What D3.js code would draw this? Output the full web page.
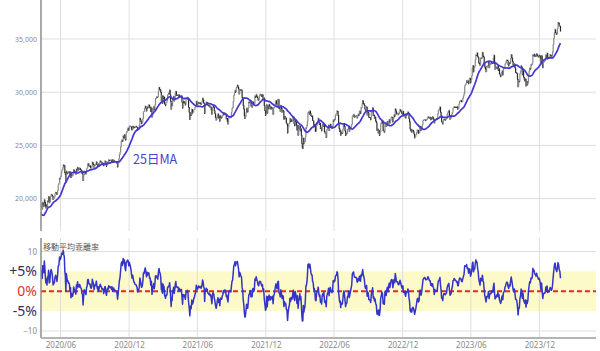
<!DOCTYPE html>
<html><head><meta charset="utf-8">
<script src="https://cdn.jsdelivr.net/npm/d3@7/dist/d3.min.js"></script>
<style>body{margin:0;background:#fff}svg{display:block}</style>
</head><body><svg id="c" width="600" height="351"></svg>
<script>
// ---- data (Nikkei 225 daily closes, grouped by month) ----
const months = ["2020/03","2020/04","2020/05","2020/06","2020/07","2020/08","2020/09","2020/10","2020/11","2020/12",
"2021/01","2021/02","2021/03","2021/04","2021/05","2021/06","2021/07","2021/08","2021/09","2021/10","2021/11","2021/12",
"2022/01","2022/02","2022/03","2022/04","2022/05","2022/06","2022/07","2022/08","2022/09","2022/10","2022/11","2022/12",
"2023/01","2023/02","2023/03","2023/04","2023/05","2023/06","2023/07","2023/08","2023/09","2023/10","2023/11","2023/12",
"2024/01"];
const closes = [
[21344,21083,21100,21329,20749,19698,19867,19416,18559,17431,17002,17011,16726,16552,16887,18092,19546,18664,19389,19084,18917],
[18065,17818,17820,18576,18950,19353,19345,19498,19043,19638,19550,19290,19897,19669,19280,19137,19429,19262,19783,19771,20194],
[19619,19674,20179,20390,20366,20267,19914,20037,20133,20433,20595,20552,20388,20741,21271,21419,21916,21878],
[22062,22325,22613,22695,22863,23178,23091,23124,22472,22305,21530,22582,22455,22355,22478,22437,22549,22534,22259,22512,21995,22288],
[22122,22146,22306,22714,22614,22438,22529,22290,22784,22587,22945,22770,22696,22717,22884,22751,22715,22657,22397,22339,21710],
[22195,22573,22514,22418,22329,22750,22843,23249,23289,23097,23051,23110,22920,22880,22985,23431,23296,23208,22882,23140],
[23138,23247,23465,23205,23089,23274,23032,23235,23406,23559,23454,23475,23319,23360,23346,23087,23205,23511,23539,23185],
[23029,23312,23433,23422,23647,23619,23558,23601,23626,23507,23671,23411,23567,23639,23474,23516,23494,23485,23418,23331,22977],
[23295,23695,24105,24325,24839,25349,25520,25385,25906,25727,26014,25634,25527,26165,26297,26537,26644,26434],
[26787,26800,26809,26751,26547,26467,26817,26756,26652,26732,26687,26757,26806,26763,26714,26436,26524,26668,26854,27568,27444],
[27258,27055,27158,27490,28139,28164,28457,28698,28519,28242,28633,28523,28756,28822,28546,28635,28197,28550,27663],
[28091,28362,28646,28341,28779,29388,29406,29562,29505,29520,30084,30467,30292,30236,30017,29156,29671,28966],
[29663,29408,29559,28930,28864,28743,29027,29036,29211,29717,29766,29921,29914,30216,29792,29174,28405,28995,28730,29385,29432,29620,29179],
[29389,29854,30089,29696,29730,29709,29768,29538,29751,29621,29643,29683,29686,29100,28508,29188,29021,29126,29000,28813],
[29331,29358,29518,29357,28609,28147,27448,28084,27824,28406,28044,28098,28317,28364,28553,28642,29149,28860],
[28815,28946,29058,28942,28941,29019,28963,28860,28958,29161,29441,29291,29018,28964,28010,28884,28874,29066,28875,29048,28812,28792],
[28707,28783,28598,28643,28366,27940,28569,28718,28608,28279,28003,27652,27388,27548,27833,27970,27581,27782,27284],
[27781,27641,27584,27728,27820,28070,27888,28069,28015,27977,27523,27585,27281,27013,27494,27732,27724,27742,27641,28090],
[28451,28543,29128,29659,29916,30181,30008,30381,30447,30670,30511,30323,29839,30249,30240,30184,30240,29544,29453],
[28771,28444,27822,27528,27678,28048,28498,28230,28140,28550,29068,29025,29215,29255,28708,28804,28600,29106,29098,28820,28893],
[29647,29520,29794,29611,29507,29285,29277,29609,29776,29808,29688,29598,29774,29302,29499,28751,28283,27822],
[27935,28827,28029,28752,28455,28860,28725,28437,28640,28432,28459,28546,27937,28517,28562,28798,29069,29222,28906,28791],
[29301,29332,28487,28478,28222,28765,28490,28124,28333,28257,27467,27772,27522,27588,27131,27011,26170,26717,27002],
[27079,27533,27241,27440,27249,27284,27579,27696,27079,26865,27460,27232,26911,26449,26910,25970,26476,26527],
[26844,26393,26577,25985,25221,24790,24717,25690,25162,25307,25346,25762,26653,26652,26827,27224,28040,28110,28149,27943,28252,28027,27821],
[27736,27787,27350,27350,26888,26985,26821,26335,26334,26843,27093,27217,27553,27217,26985,27106,26591,26700,26386,26847],
[27000,26818,27003,26319,26167,26214,25748,26427,26547,26659,26911,26402,26739,27001,26748,26677,26605,26781,27369,27279],
[27457,27413,27761,27915,27943,28246,28234,27824,26987,26629,26326,26432,25963,26246,26171,26149,26491,26871,27049,26804,26393],
[25935,26153,26107,26490,26517,26812,26336,26478,26643,26788,26961,27680,27803,27914,27699,27655,27715,27801,27802],
[27594,27741,27932,27819,28176,28249,27999,28547,28546,28871,29222,28942,28930,28794,28452,28313,28479,28641,27878,28195,28092],
[27661,27650,27619,27430,28065,28214,28542,27818,27875,27567,27688,27313,27153,26431,26571,26173,26422,25937],
[26215,26992,27120,27311,27116,26401,26397,26237,27091,27090,26775,27156,27257,26891,27251,27431,27105,27346,27587],
[27679,27663,27199,27527,27872,27716,28446,28263,27963,27990,28028,27899,27944,28115,28383,28283,28162,28027,27969],
[28226,27777,27820,27885,27686,27574,27901,27842,27954,28156,28051,27527,27237,26568,26387,26507,26235,26447,26447,26340,26095],
[25716,25820,25973,26175,26446,26449,26138,26138,26822,26791,26405,26553,26906,27299,27363,27395,27433,27327],
[27346,27402,27509,27693,27685,27606,27584,27670,27427,27602,27501,27696,27531,27473,27104,27453,27423,27445],
[27516,27499,27927,28238,28309,28444,28623,28143,27833,27222,27229,27010,27334,27466,27419,27466,27385,27476,27519,27883,28041],
[28188,28287,27813,27472,27518,27633,27923,28082,28493,28515,28658,28606,28563,28620,28564,28657,28416,28457,28856],
[29123,29157,29242,29126,29122,29388,29626,29842,30573,30666,30808,31086,30917,31086,30801,31233,31328,30888],
[31148,31524,32217,32506,31914,32265,32434,33018,33502,33485,33706,33388,33264,32781,32698,32538,33193,33234,33189],
[33753,33422,33338,32773,32388,32189,31943,32419,32391,32493,32896,32304,32700,32682,32668,32891,32759,32707,33172],
[33476,32707,32159,32192,32254,32377,32204,32474,32059,32238,31766,31627,31450,31566,31856,32010,31624,32169,32226,32333,32619],
[32710,32939,33036,32991,32606,32467,32776,32706,33168,33533,33242,32901,32571,32402,32678,32315,31873,31858],
[31759,31237,30526,31075,30994,31746,31936,32494,32315,31659,32040,31430,31259,31062,31269,30601,31028,30697,30859],
[31601,31950,32271,32166,32585,32568,32695,33519,33424,33585,33388,33452,33354,33625,33447,33408,33321,33487],
[33431,33231,32775,33445,32858,32307,32791,32843,32926,32970,33505,33219,33675,33141,33254,33169,33305,33540,33464],
[33288,33377,33763,34441,35049,35577,35901,35619,35477,35466,35963,36546,36517,36226,36236,35751]
];
const lastTradingDay = "2024/01/26";
const maPeriod = 25;
const priceTicks = [20000, 25000, 30000, 35000];
const devTicks = [-10, 10];
const bandTicks = [5, 0, -5];
const bandLabels = ["+5%", "0%", "-5%"];
const xTicks = ["2020/06","2020/12","2021/06","2021/12","2022/06","2022/12","2023/06","2023/12"];
const viewStart = "2020/04/10", viewEnd = "2024/04/30";
const maLabel = "25日MA";
const devTitle = "移動平均乖離率";

// ---- build series ----
const parse = d3.timeParse("%Y/%m/%d");
const series = [];
months.forEach((m, mi) => {
  const start = parse(m + "/01");
  const end = mi === months.length - 1 ? d3.timeDay.offset(parse(lastTradingDay), 1) : parse(months[mi + 1] + "/01");
  const vals = closes[mi];
  vals.forEach((v, i) => {
    series.push({date: new Date(+start + (i + 0.5) / vals.length * (end - start)), close: v});
  });
});
series.forEach((d, k) => {
  d.prev = k > 0 ? series[k - 1].close : d.close;
  if (k >= maPeriod - 1) {
    d.ma = d3.mean(series.slice(k - maPeriod + 1, k + 1), s => s.close);
    d.dev = (d.close - d.ma) / d.ma * 100;
  }
});
const withMa = series.filter(d => d.ma != null);

// ---- layout ----
const L = 41, R = 596;
const topP = {y0: 0, y1: 231};
const botP = {y0: 238, y1: 338};
const svg = d3.select("#c");
const x = d3.scaleTime().domain([parse(viewStart), parse(viewEnd)]).range([L, R]);
const yP = d3.scaleLinear().domain([20000, 35000]).range([198.6, 39]);
const yD = d3.scaleLinear().domain([-10, 10]).range([331, 251.5]);
const tickDates = xTicks.map(t => parse(t + "/01"));
const grid = "#dedede";

const defs = svg.append("defs");
defs.append("clipPath").attr("id", "clipT").append("rect").attr("x", L).attr("y", topP.y0).attr("width", R - L).attr("height", topP.y1 - topP.y0);
defs.append("clipPath").attr("id", "clipB").append("rect").attr("x", L).attr("y", botP.y0).attr("width", R - L).attr("height", botP.y1 - botP.y0);

// ---- top panel ----
const gT = svg.append("g");
gT.selectAll(".hg").data(priceTicks).join("line")
  .attr("x1", L).attr("x2", R).attr("y1", d => yP(d)).attr("y2", d => yP(d))
  .attr("stroke", grid).attr("stroke-width", 1);
gT.selectAll(".vg").data(tickDates).join("line")
  .attr("x1", d => x(d)).attr("x2", d => x(d)).attr("y1", topP.y0).attr("y2", topP.y1)
  .attr("stroke", grid).attr("stroke-width", 1);

const yAxisT = d3.axisLeft(yP).tickValues(priceTicks).tickFormat(d3.format(",")).tickSize(0).tickPadding(4);
gT.append("g").attr("transform", `translate(${L},0)`).call(yAxisT)
  .call(g => g.select(".domain").remove())
  .call(g => g.selectAll("text").attr("fill", "#8a8a8a").attr("font-size", 7).attr("font-family", "Noto Sans, sans-serif"));

const plotT = gT.append("g").attr("clip-path", "url(#clipT)");
plotT.selectAll(".cd").data(series.slice(1)).join("line")
  .attr("x1", d => x(d.date)).attr("x2", d => x(d.date))
  .attr("y1", d => yP(d.prev)).attr("y2", d => yP(d.close) + (d.close < d.prev ? 0.6 : -0.6))
  .attr("stroke", d => d.close >= d.prev ? "#8a8a8a" : "#2a2a2a")
  .attr("stroke-width", 1.2);
plotT.append("path").datum(withMa)
  .attr("d", d3.line().x(d => x(d.date)).y(d => yP(d.ma)))
  .attr("fill", "none").attr("stroke", "#4336d2").attr("stroke-width", 1.7);

gT.append("line").attr("x1", L).attr("x2", L).attr("y1", topP.y0).attr("y2", topP.y1)
  .attr("stroke", "#8c8c8c").attr("stroke-width", 1.5);
gT.append("text").attr("x", 133).attr("y", 164).text(maLabel)
  .attr("fill", "#4a40cc").attr("font-size", 12.5).attr("font-family", "Noto Sans CJK JP, sans-serif");

// ---- bottom panel ----
const gB = svg.append("g");
gB.append("rect").attr("x", L).attr("width", R - L)
  .attr("y", yD(5)).attr("height", yD(-5) - yD(5)).attr("fill", "#fcfac8");
gB.selectAll(".hg").data(devTicks).join("line")
  .attr("x1", L).attr("x2", R).attr("y1", d => yD(d)).attr("y2", d => yD(d))
  .attr("stroke", grid).attr("stroke-width", 1);
gB.selectAll(".vg").data(tickDates).join("line")
  .attr("x1", d => x(d)).attr("x2", d => x(d)).attr("y1", botP.y0).attr("y2", botP.y1)
  .attr("stroke", grid).attr("stroke-width", 1);

const yAxisB = d3.axisLeft(yD).tickValues(devTicks).tickSize(0).tickPadding(4);
gB.append("g").attr("transform", `translate(${L},0)`).call(yAxisB)
  .call(g => g.select(".domain").remove())
  .call(g => g.selectAll("text").attr("fill", "#8a8a8a").attr("font-size", 8).attr("font-family", "Noto Sans, sans-serif"));

gB.selectAll(".bl").data(bandTicks).join("text")
  .attr("x", 37).attr("y", d => yD(d)).attr("dy", "0.36em").attr("text-anchor", "end")
  .text((d, i) => bandLabels[i])
  .attr("fill", d => d === 0 ? "#e0341c" : "#2f2f5f")
  .attr("font-size", 14).attr("font-family", "Noto Sans, sans-serif");

gB.append("line").attr("x1", L).attr("x2", R).attr("y1", yD(0)).attr("y2", yD(0))
  .attr("stroke", "#e02a1e").attr("stroke-width", 2).attr("stroke-dasharray", "5,3");

const plotB = gB.append("g").attr("clip-path", "url(#clipB)");
plotB.append("path").datum(withMa)
  .attr("d", d3.line().x(d => x(d.date)).y(d => yD(d.dev)))
  .attr("fill", "none").attr("stroke", "#3434c8").attr("stroke-width", 1.5).attr("stroke-linejoin", "round");

gB.append("text").attr("x", 43).attr("y", 250).text(devTitle)
  .attr("fill", "#555").attr("font-size", 8).attr("font-family", "Noto Sans CJK JP, sans-serif");

gB.append("line").attr("x1", L).attr("x2", L).attr("y1", botP.y0).attr("y2", botP.y1)
  .attr("stroke", "#8c8c8c").attr("stroke-width", 1.5);
gB.append("line").attr("x1", L).attr("x2", R).attr("y1", botP.y1).attr("y2", botP.y1)
  .attr("stroke", "#b4b4b4").attr("stroke-width", 2);

const xAxis = d3.axisBottom(x).tickValues(tickDates).tickFormat(d3.timeFormat("%Y/%m")).tickSize(0).tickPadding(4);
svg.append("g").attr("transform", `translate(0,${botP.y1})`).call(xAxis)
  .call(g => g.select(".domain").remove())
  .call(g => g.selectAll("text").attr("fill", "#8a8a8a").attr("font-size", 8).attr("font-family", "Noto Sans, sans-serif"));
</script></body></html>
